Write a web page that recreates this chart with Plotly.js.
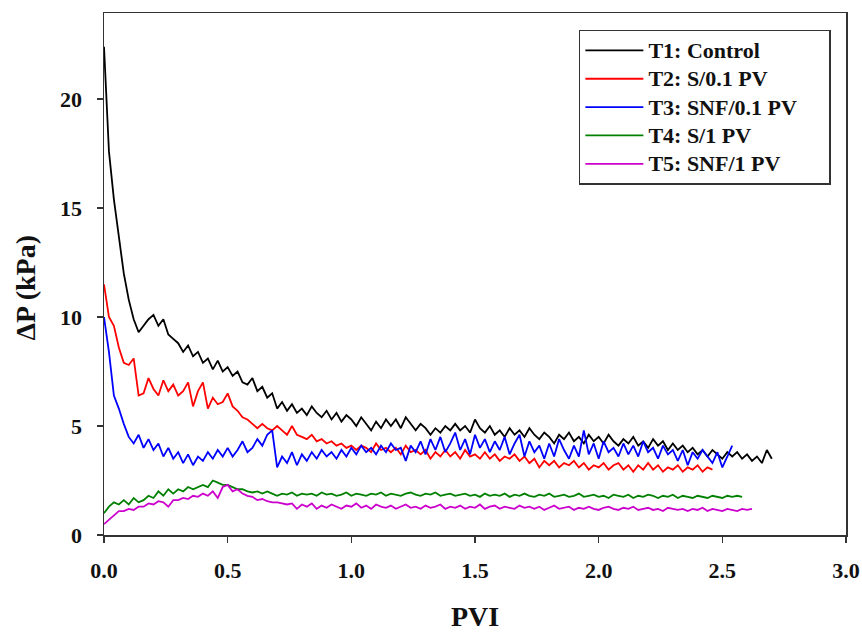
<!DOCTYPE html>
<html>
<head>
<meta charset="utf-8">
<script src="https://cdn.plot.ly/plotly-3.0.1.min.js"></script>
<style>html,body{margin:0;padding:0;background:#fff;}#chart{width:862px;height:635px;}</style>
</head>
<body>
<div id="chart"></div>
<script>
// PVI step between samples and series values (ΔP in kPa)
const pviStart = 0;
const pviStep = 0.02;
const seriesNames = ["T1: Control", "T2: S/0.1 PV", "T3: SNF/0.1 PV", "T4: S/1 PV", "T5: SNF/1 PV"];
const xTicks = [0, 0.5, 1.0, 1.5, 2.0, 2.5, 3.0];
const yTicks = [0, 5, 10, 15, 20];
const xTitle = "PVI";
const yTitle = "ΔP (kPa)";

const t1 = [22.4,17.6,15.4,13.6,12.0,10.8,9.9,9.3,9.6,9.9,
10.1,9.6,9.9,9.2,9.0,8.8,8.4,8.7,8.2,8.4,
7.9,8.1,7.6,8.0,7.5,7.7,7.3,7.5,7.0,6.9,
7.2,6.6,6.8,6.3,6.5,5.8,6.1,5.7,6.0,5.6,
5.8,5.5,5.9,5.6,5.4,5.7,5.3,5.6,5.2,5.5,
5.3,5.0,5.4,5.1,4.8,5.2,4.9,5.3,5.0,5.3,
4.9,5.4,5.1,4.8,5.1,4.9,4.6,4.9,4.7,5.0,
4.8,5.1,4.8,5.0,4.7,5.3,4.9,4.7,5.0,4.6,
4.8,4.5,4.9,4.6,4.8,4.5,4.9,4.6,4.4,4.7,
4.5,4.2,4.6,4.4,4.7,4.3,4.5,4.2,4.6,4.3,
4.5,4.2,4.6,4.3,4.1,4.4,4.2,4.5,4.1,4.3,
4.0,4.4,4.1,4.3,3.9,4.2,3.9,4.1,3.8,4.0,
3.7,3.9,3.6,3.9,3.7,3.5,3.8,3.6,3.8,3.5,
3.7,3.4,3.6,3.3,3.9,3.5];

const t2 = [11.5,10.0,9.6,8.6,7.9,7.8,8.1,6.4,6.5,7.2,
6.7,6.4,7.1,6.6,6.9,6.4,6.6,7.0,5.9,6.6,
7.0,5.8,6.3,6.0,6.1,6.5,5.9,5.7,5.4,5.3,
5.1,4.9,5.1,4.9,4.8,5.0,4.8,4.6,5.0,4.6,
4.5,4.4,4.6,4.3,4.4,4.2,4.3,4.1,4.2,4.0,
4.1,3.9,4.1,4.0,3.8,4.2,3.9,4.0,3.8,4.0,
3.7,4.1,3.8,3.9,3.7,3.9,3.5,3.8,3.6,3.9,
3.6,3.8,3.5,3.9,3.6,3.7,3.5,3.8,3.5,3.7,
3.4,3.6,3.5,3.7,3.4,3.6,3.3,3.5,3.1,3.4,
3.2,3.4,3.1,3.3,3.2,3.4,3.1,3.3,3.0,3.2,
3.1,3.3,3.0,3.2,3.3,3.0,3.2,2.9,3.2,3.0,
3.3,3.0,3.2,2.9,3.1,3.0,3.2,2.9,3.1,3.0,
3.2,2.9,3.1,3.0];

const t3 = [10.0,8.4,6.4,5.8,5.1,4.5,4.2,4.6,4.0,4.4,
3.9,4.2,3.6,4.0,3.5,3.8,3.3,3.7,3.2,3.6,
3.4,3.8,3.5,3.9,3.6,4.0,3.6,3.9,4.3,3.8,
4.0,4.4,4.1,4.6,4.8,3.1,3.6,3.3,3.8,3.2,
3.7,3.4,3.8,3.5,3.9,3.6,3.8,3.5,3.9,3.6,
4.0,3.7,4.1,3.8,4.0,3.7,4.1,3.8,4.2,3.9,
4.0,3.4,4.1,3.8,4.3,3.7,4.4,3.9,4.5,3.8,
4.2,4.7,3.9,4.4,3.7,4.6,4.0,4.4,3.8,4.3,
3.9,4.5,3.7,4.2,4.6,3.6,4.3,3.8,4.1,3.5,
4.2,3.6,4.4,3.9,3.5,4.1,3.6,4.8,3.7,4.2,
3.5,4.3,3.8,4.0,3.6,4.2,3.7,4.1,3.6,4.3,
3.8,4.0,3.5,4.1,3.7,3.9,3.4,3.9,3.2,3.8,
3.5,3.9,3.6,3.3,3.8,3.1,3.6,4.1];

const t4 = [1.0,1.3,1.5,1.4,1.6,1.4,1.7,1.5,1.6,1.8,
1.7,2.0,1.8,2.1,1.9,2.1,2.0,2.2,2.1,2.2,
2.3,2.2,2.5,2.4,2.3,2.3,2.2,2.1,2.1,2.0,
1.95,2.0,1.9,2.0,1.9,
1.8,1.9,1.85,1.95,1.8,1.9,1.85,1.9,1.8,1.95,
1.85,1.9,1.8,1.85,1.95,1.8,1.9,1.85,1.8,1.9,
1.85,1.95,1.8,1.9,1.85,1.8,1.9,1.95,1.85,1.8,
1.9,1.85,1.95,1.8,1.85,1.9,1.8,1.85,1.9,1.8,
1.85,1.75,1.9,1.8,1.85,1.8,1.9,1.75,1.85,1.8,
1.9,1.8,1.75,1.85,1.8,1.9,1.75,1.8,1.85,1.75,
1.8,1.9,1.75,1.8,1.85,1.75,1.8,1.7,1.85,1.8,
1.75,1.85,1.7,1.8,1.75,1.85,1.8,1.7,1.8,1.75,
1.85,1.7,1.8,1.75,1.7,1.8,1.75,1.7,1.8,1.75,
1.7,1.8,1.75,1.8,1.75];

const t5 = [0.5,0.7,0.9,1.1,1.1,1.2,1.15,1.3,1.3,1.45,
1.4,1.55,1.5,1.3,1.6,1.6,1.7,1.65,1.8,1.75,
1.9,1.8,2.0,1.7,2.2,2.3,2.0,2.1,1.9,1.8,
1.75,1.6,1.65,1.55,1.5,1.5,1.45,1.4,1.45,1.2,
1.4,
1.3,1.45,1.2,1.35,1.25,1.4,1.3,1.2,1.35,1.3,
1.45,1.25,1.35,1.2,1.4,1.3,1.25,1.35,1.2,1.3,
1.4,1.25,1.3,1.2,1.35,1.25,1.3,1.4,1.2,1.3,
1.25,1.35,1.2,1.3,1.25,1.4,1.2,1.3,1.35,1.2,
1.3,1.25,1.2,1.35,1.25,1.3,1.2,1.3,1.15,1.25,
1.35,1.2,1.25,1.3,1.15,1.25,1.2,1.3,1.2,1.15,
1.25,1.3,1.2,1.15,1.25,1.2,1.3,1.15,1.2,1.25,
1.15,1.2,1.1,1.25,1.2,1.15,1.2,1.1,1.2,1.15,
1.25,1.1,1.2,1.15,1.1,1.2,1.15,1.1,1.2,1.15,
1.2];

const seriesValues = [t1, t2, t3, t4, t5];
const colors = ["#000000", "#ff0000", "#0000ff", "#008000", "#cc00cc"];

const traces = seriesValues.map((vals, i) => ({
  type: "scatter",
  mode: "lines",
  name: '<span style="font-size:22px">' + seriesNames[i] + (i === 2 ? "\u00a0\u00a0\u00a0\u00a0\u00a0" : "") + "</span>",
  x0: pviStart,
  dx: pviStep,
  y: vals,
  line: {color: colors[i], width: 1.8}
}));

const serif = "Liberation Serif, Times New Roman, serif";
const layout = {
  width: 862, height: 635,
  margin: {l: 104, r: 16, t: 13, b: 100},
  paper_bgcolor: "#fff", plot_bgcolor: "#fff",
  font: {family: serif, color: "#111"},
  showlegend: true,
  legend: {
    x: 0.64, y: 0.968, xanchor: "left", yanchor: "top",
    bgcolor: "#fff", bordercolor: "#333", borderwidth: 1.5,
    font: {family: serif, size: 19.5, weight: "bold", color: "#111"},
    itemwidth: 58,
    tracegroupgap: 0
  },
  xaxis: {
    range: [0, 3], tickvals: xTicks, tickformat: ".1f",
    ticks: "outside", ticklen: 6, tickwidth: 1.5, tickcolor: "#333",
    showline: true, linecolor: "#333", linewidth: 1.5, mirror: true,
    showgrid: false, zeroline: false,
    tickfont: {family: serif, size: 22, weight: "bold", color: "#111"},
    ticklabelstandoff: 9,
    title: {text: xTitle, font: {family: serif, size: 28, weight: "bold", color: "#111"}, standoff: 24}
  },
  yaxis: {
    range: [0, 23.95], tickvals: yTicks,
    ticks: "outside", ticklen: 6, tickwidth: 1.5, tickcolor: "#333",
    showline: true, linecolor: "#333", linewidth: 1.5, mirror: true,
    showgrid: false, zeroline: false,
    tickfont: {family: serif, size: 22, weight: "bold", color: "#111"},
    ticklabelstandoff: 10
  },
  annotations: [{
    text: yTitle, textangle: -90, showarrow: false,
    xref: "paper", yref: "paper", x: -0.106, y: 0.473,
    xanchor: "center", yanchor: "middle",
    font: {family: serif, size: 28, weight: "bold", color: "#111"}
  }]
};

Plotly.newPlot("chart", traces, layout, {displayModeBar: false, staticPlot: true});
</script>
</body>
</html>
